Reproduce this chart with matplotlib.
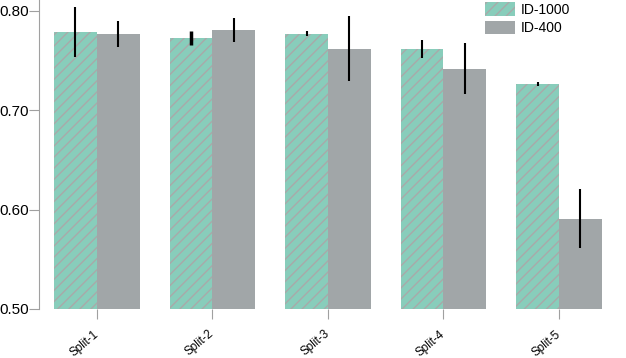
import matplotlib
matplotlib.use("Agg")
import matplotlib.pyplot as plt
import matplotlib.transforms as mtransforms
import numpy as np

plt.rcParams['font.family'] = ['Liberation Sans', 'DejaVu Sans']
plt.rcParams['hatch.color'] = '#a9a9a9'
plt.rcParams['hatch.linewidth'] = 1.0

splits = ['Split-1', 'Split-2', 'Split-3', 'Split-4', 'Split-5']
id1000 = [0.779, 0.773, 0.777, 0.762, 0.726]
id1000_err = [0.025, 0.007, 0.0025, 0.009, 0.002]
id400 = [0.777, 0.781, 0.762, 0.742, 0.591]
id400_err = [0.013, 0.012, 0.033, 0.026, 0.030]

fig = plt.figure(figsize=(6.26, 3.58), dpi=100)
ax = fig.add_axes([39/626, 49/358, 1 - 39/626, 1 - 49/358])

x = np.arange(len(splits))
w = 0.37
b1 = ax.bar(x - w/2, id1000, w, color='#88cdbb', hatch='///', linewidth=0,
            label='ID-1000', yerr=id1000_err, error_kw=dict(ecolor='black', elinewidth=1.5, capsize=0))
b2 = ax.bar(x + w/2, id400, w, color='#a1a6a8', linewidth=0,
            label='ID-400', yerr=id400_err, error_kw=dict(ecolor='black', elinewidth=1.5, capsize=0))
# the split-2 ID-1000 error bar is drawn thicker in the original
b1.errorbar.lines[2][0].set_linewidths([1.5, 2.5, 1.5, 1.5, 1.5])

ax.set_ylim(0.5, 0.811)
ax.set_xlim(-0.5, 4.58)
ax.set_yticks([0.5, 0.6, 0.7, 0.8])
ax.set_yticklabels(['0.50', '0.60', '0.70', '0.80'], fontsize=11)
ax.set_xticks(x)
ax.set_xticklabels(splits, rotation=40, fontsize=8.5, ha='right', va='center',
                   rotation_mode='anchor')
shift = mtransforms.ScaledTranslation(6/100, 0, fig.dpi_scale_trans)
for lbl in ax.get_xticklabels():
    lbl.set_transform(lbl.get_transform() + shift)

for s in ['top', 'right', 'bottom']:
    ax.spines[s].set_visible(False)
ax.spines['left'].set_color('#a0a0a0')
ax.tick_params(axis='both', colors='#a0a0a0', labelcolor='black', length=7)
ax.tick_params(axis='y', pad=0)
ax.tick_params(axis='x', pad=10)

ax.legend(loc='upper left', bbox_to_anchor=(485/626, 1 - 2/358), bbox_transform=fig.transFigure,
          frameon=False, fontsize=10, handlelength=2.16, handleheight=1.15,
          handletextpad=0.43, labelspacing=0.29, borderpad=0, borderaxespad=0)

fig.savefig('out.png', dpi=100)
